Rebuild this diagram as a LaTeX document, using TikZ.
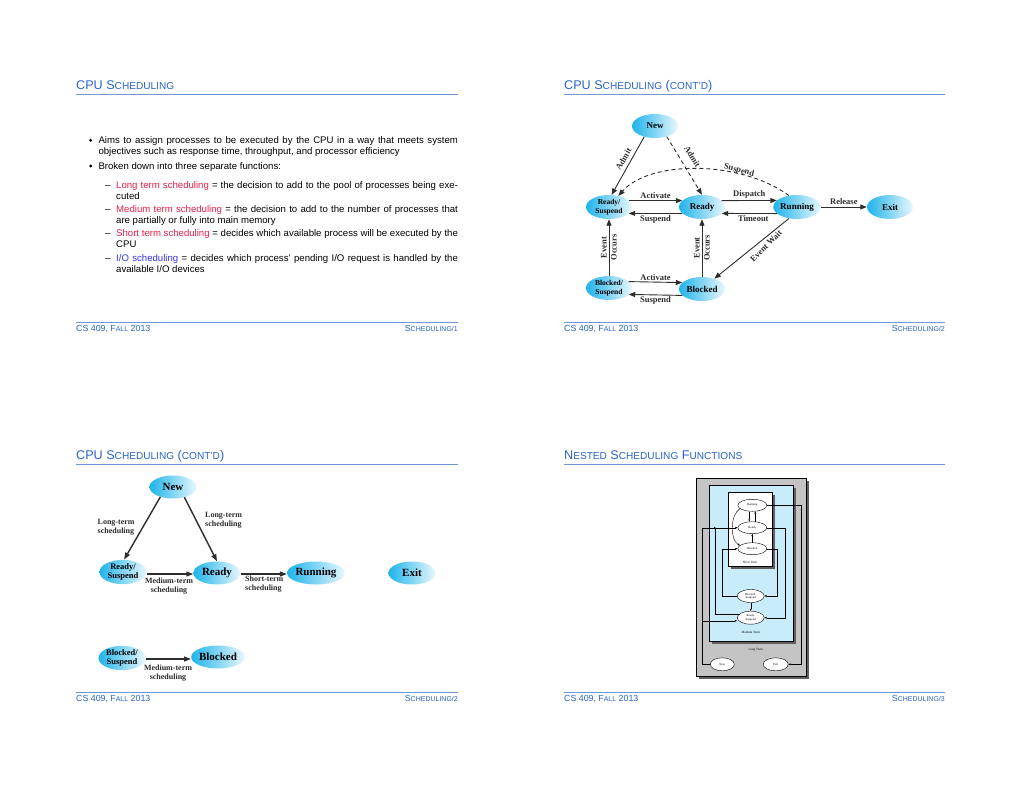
\documentclass[tikz,border=0pt]{standalone}
\usepackage{fontspec}
\setmainfont{Liberation Sans}
\newfontfamily\dgfont{Liberation Serif}
\usetikzlibrary{arrows.meta,shapes.geometric}
\definecolor{hblue}{RGB}{40,100,200}
\definecolor{rblue}{RGB}{110,150,215}
\definecolor{tred}{RGB}{232,32,72}
\definecolor{tblu}{RGB}{50,50,240}
\definecolor{cyA}{RGB}{30,180,235}
\definecolor{cyB}{RGB}{232,247,253}
\definecolor{dgray}{RGB}{45,45,45}
\definecolor{boxgray}{RGB}{196,196,196}
\definecolor{boxblue}{RGB}{200,236,250}
\definecolor{shgray}{RGB}{95,95,95}
\newcommand\hsc[1]{{\fontsize{10.1}{11}\selectfont #1}}
\newcommand\fsc[1]{{\fontsize{7}{8}\selectfont #1}}
\tikzset{
  htext/.style={anchor=base west,inner sep=0pt,text=hblue,font=\fontsize{12.6}{14}\selectfont},
  ftext/.style={anchor=base west,inner sep=0pt,text=hblue,font=\fontsize{8.8}{10}\selectfont},
  frtext/.style={ftext,anchor=base east},
  hrule/.style={draw=rblue,line width=1pt},
  body/.style={anchor=base west,inner sep=0pt,font=\fontsize{9.6}{11}\selectfont},
  stwo/.style={ellipse,minimum width=46pt,minimum height=24pt,inner sep=0pt,
    left color=cyA,right color=cyB,align=center,
    font=\dgfont\bfseries\fontsize{9}{10}\selectfont},
  stwos/.style={stwo,font=\dgfont\bfseries\fontsize{7.5}{8.5}\selectfont},
  arr/.style={draw=dgray,line width=0.9pt,-{Triangle[length=6.5pt,width=5pt]}},
  lbl/.style={font=\dgfont\bfseries\fontsize{8.5}{10}\selectfont,inner sep=1.5pt,text=dgray},
  sthree/.style={ellipse,minimum width=47pt,minimum height=23pt,inner sep=0pt,
    left color=cyA,right color=cyB,align=center,
    font=\dgfont\bfseries\fontsize{11}{12}\selectfont},
  sthrees/.style={sthree,font=\dgfont\bfseries\fontsize{8.5}{9.5}\selectfont},
  arrb/.style={draw=dgray,line width=1.4pt,-{Triangle[length=7pt,width=5pt]}},
  lblb/.style={font=\dgfont\bfseries\fontsize{8}{9}\selectfont,inner sep=0pt,text=dgray,align=left},
  sfour/.style={ellipse,draw=black,line width=0.4pt,fill=white,minimum width=29pt,minimum height=12pt,
    inner sep=0pt,align=center,font=\dgfont\fontsize{3}{3.4}\selectfont},
  lnf/.style={draw=black,line width=0.4pt},
  arf/.style={lnf,-{Triangle[length=2.2pt,width=1.8pt]}},
  tinyl/.style={font=\dgfont\fontsize{3.2}{3.6}\selectfont,inner sep=0pt}
}
\begin{document}
\begin{tikzpicture}[x=1pt,y=-1pt]
\useasboundingbox (0,0) rectangle (1020,788);
\fill[white] (0,0) rectangle (1020,788);

% ================= Slide 1 =================
\node[htext] (h1) at (76,89) {CPU S\hsc{CHEDULING}};
\draw[hrule] (76,94) -- (458,94);
\fill (90.7,140.3) circle (1.6pt);
\node[body] (t1) at (98.3,143) {\makebox[359.4pt][s]{Aims to assign processes to be executed by the CPU in a way that meets system}};
\node[body] (t2) at (98.3,154.5) {objectives such as response time, throughput, and processor efficiency};
\fill (90.7,166) circle (1.6pt);
\node[body] (t3) at (98.3,169.3) {Broken down into three separate functions:};
\node[body] (d1) at (105,188.3) {--};
\node[body] (t4) at (116,188.3) {\makebox[341.7pt][s]{\textcolor{tred}{Long term scheduling} = the decision to add to the pool of processes being exe-}};
\node[body] (t5) at (116,199) {cuted};
\node[body] (d2) at (105,212.3) {--};
\node[body] (t6) at (116,212.3) {\makebox[341.7pt][s]{\textcolor{tred}{Medium term scheduling} = the decision to add to the number of processes that}};
\node[body] (t7) at (116,223.3) {are partially or fully into main memory};
\node[body] (d3) at (105,236.7) {--};
\node[body] (t8) at (116,236.7) {\makebox[341.7pt][s]{\textcolor{tred}{Short term scheduling} = decides which available process will be executed by the}};
\node[body] (t9) at (116,247.7) {CPU};
\node[body] (d4) at (105,261.7) {--};
\node[body] (t10) at (116,261.7) {\makebox[341.7pt][s]{\textcolor{tblu}{I/O scheduling} = decides which process’ pending I/O request is handled by the}};
\node[body] (t11) at (116,272.3) {available I/O devices};
\draw[hrule] (76,322) -- (458,322);
\node[ftext] (f1l) at (76,331) {CS 409, F\fsc{ALL} 2013};
\node[frtext] (f1r) at (458,331) {S\fsc{CHEDULING/1}};

% ================= Slide 2 =================
\node[htext] (h2) at (564,89) {CPU S\hsc{CHEDULING} (\hsc{CONT’D})};
\draw[hrule] (564,94) -- (945,94);
\node[stwo] (nnew) at (655,126) {New};
\node[stwos] (nrs) at (609,207) {Ready/\\Suspend};
\node[stwo] (nrdy) at (702,207) {Ready};
\node[stwo] (nrun) at (797,207) {Running};
\node[stwo] (nexit) at (890,207) {Exit};
\node[stwos] (nbs) at (609,288) {Blocked/\\Suspend};
\node[stwo] (nblk) at (702,289) {Blocked};
\draw[arr] (nnew.225) -- (nrs.78);
\node[lbl,rotate=60] (ladm1) at (623.5,159) {Admit};
\draw[arr,dash pattern=on 4pt off 3pt] (nnew.318) -- (nrdy.north);
\node[lbl,rotate=-58] (ladm2) at (692.5,157) {Admit};
\draw[arr,dash pattern=on 4pt off 3pt] (nrun.125) .. controls (740,160) and (650,160) .. (nrs.50);
\node[lbl,rotate=-14] (lsus) at (739,170.5) {Suspend};
\draw[arr] (nrs.18) -- (nrdy.162) node[midway,above,lbl] {Activate};
\draw[arr] (nrdy.198) -- (nrs.342) node[midway,below,lbl] {Suspend};
\draw[arr] (nrdy.18) -- (nrun.162) node[midway,above,lbl] {Dispatch};
\draw[arr] (nrun.198) -- (nrdy.342) node[midway,below,lbl,xshift=4pt] {Timeout};
\draw[arr] (nrun) -- (nexit) node[midway,above,lbl] {Release};
\draw[arr] (nrun.235) -- (nblk.40);
\node[lbl,rotate=45] (lew) at (766,246) {Event Wait};
\draw[arr] (nbs) -- (nrs) node[midway,rotate=90,lbl,align=center,font=\dgfont\bfseries\fontsize{8.5}{10}\selectfont] {Event\\Occurs};
\draw[arr] (nblk) -- (nrdy) node[midway,rotate=90,lbl,align=center,font=\dgfont\bfseries\fontsize{8.5}{10}\selectfont] {Event\\Occurs};
\draw[arr] (nbs.18) -- (nblk.162) node[midway,above,lbl] {Activate};
\draw[arr] (nblk.198) -- (nbs.342) node[midway,below,lbl] {Suspend};
\draw[hrule] (564,322) -- (945,322);
\node[ftext] (f2l) at (564,331) {CS 409, F\fsc{ALL} 2013};
\node[frtext] (f2r) at (945,331) {S\fsc{CHEDULING/2}};

% ================= Slide 3 =================
\node[htext] (h3) at (76,459) {CPU S\hsc{CHEDULING} (\hsc{CONT’D})};
\draw[hrule] (76,464) -- (458,464);
\node[sthree] (mnew) at (173,487) {New};
\node[sthrees] (mrs) at (123,572) {Ready/\\Suspend};
\node[sthree] (mrdy) at (217,573) {Ready};
\node[sthree] (mrun) at (316,573) {Running};
\node[sthree] (mexit) at (412,573) {Exit};
\node[sthrees] (mbs) at (122,658) {Blocked/\\Suspend};
\node[sthree] (mblk) at (218,657) {Blocked};
\draw[arrb] (mnew.218) -- (mrs.85);
\draw[arrb] (mnew.318) -- (mrdy.north);
\draw[arrb] (mrs.east |- 0,574) -- (mrdy.west |- 0,574);
\draw[arrb] (mrdy.east |- 0,574) -- (mrun.west |- 0,574);
\draw[arrb] (mbs.east |- 0,659) -- (mblk.west |- 0,659);
\node[lblb,anchor=west] (lA) at (97.5,527) {Long-term\\scheduling};
\node[lblb,anchor=west] (lB) at (205,520) {Long-term\\scheduling};
\node[lblb,align=center] (lC) at (169,586.5) {Medium-term\\scheduling};
\node[lblb,anchor=west] (lD) at (245,584.5) {Short-term\\scheduling};
\node[lblb,align=center] (lE) at (168,673) {Medium-term\\scheduling};
\draw[hrule] (76,692) -- (458,692);
\node[ftext] (f3l) at (76,701) {CS 409, F\fsc{ALL} 2013};
\node[frtext] (f3r) at (458,701) {S\fsc{CHEDULING/2}};

% ================= Slide 4 =================
\node[htext] (h4) at (564,459) {N\hsc{ESTED} S\hsc{CHEDULING} F\hsc{UNCTIONS}};
\draw[hrule] (564,464) -- (945,464);
\fill[shgray] (699,481) rectangle (809,679);
\filldraw[fill=boxgray,draw=black,line width=0.4pt] (696,478) rectangle (806,676);
\fill[shgray] (711.5,487.5) rectangle (796,643.5);
\filldraw[fill=boxblue,draw=black,line width=0.4pt] (709,485) rectangle (793.5,641);
\fill[shgray] (730.5,494.5) rectangle (774.5,568.5);
\filldraw[fill=white,draw=black,line width=0.4pt] (728.3,492) rectangle (772.3,566);
\node[tinyl] (lst) at (750,562) {Short Term};
\node[tinyl] (lmt) at (750.7,632.7) {Medium Term};
\node[tinyl] (llt) at (755.7,649.3) {Long Term};
\node[sfour] (qrun) at (752.3,505.3) {Running};
\node[sfour] (qrdy) at (752.3,527.7) {Ready};
\node[sfour] (qblk) at (752.3,548.7) {Blocked};
\node[sfour,minimum width=27pt,minimum height=13pt] (qbs) at (750.7,596) {Blocked,\\Suspend};
\node[sfour,minimum width=27pt,minimum height=13pt] (qrs) at (750.7,617.7) {Ready,\\Suspend};
\node[sfour,minimum width=24pt,minimum height=13pt] (qnew) at (722.3,664.3) {New};
\node[sfour,minimum width=25pt,minimum height=13pt] (qexit) at (775.7,664.3) {Exit};
\coordinate (j1) at (702.3,620.7);
\coordinate (j2) at (714.7,527.7);
\draw[arf] ([xshift=-3pt]qrun.south) -- ([xshift=-3pt]qrdy.north);
\draw[arf] ([xshift=3pt]qrdy.north) -- ([xshift=3pt]qrun.south);
\draw[arf] (qblk.north) -- (qrdy.south);
\draw[arf] (qrun.195) .. controls (730,515) and (730,540) .. (qblk.165);
\draw[arf] (qbs.south) -- (qrs.north);
\draw[arf] (qrun.east) -- (801.3,505.3) |- (qexit.east);
\draw[arf] (qrdy.east) -- (784.7,527.7) |- (qrs.east);
\draw[arf] (qblk.east) -- (777.3,548.7) |- (qbs.east);
\draw[arf] (qbs.west) -- (722.3,596) |- (qblk.west);
\draw[arf] (qnew.west) -- (702.3,664.3) |- (qrdy.west);
\draw[arf] (j1) -- (j1 -| qrs.west);
\draw[lnf] (qrs.160) -| (j2);
\fill (j2) circle (0.8pt);
\draw[hrule] (564,692) -- (945,692);
\node[ftext] (f4l) at (564,701) {CS 409, F\fsc{ALL} 2013};
\node[frtext] (f4r) at (945,701) {S\fsc{CHEDULING/3}};
\end{tikzpicture}
\end{document}
